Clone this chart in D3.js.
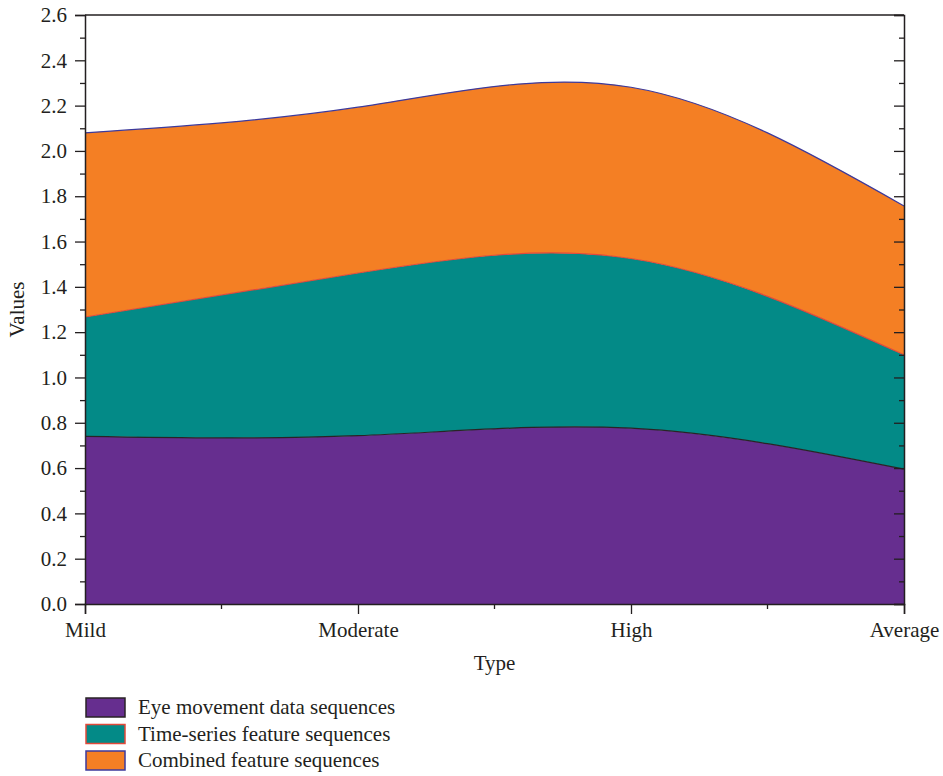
<!DOCTYPE html>
<html>
<head>
<meta charset="utf-8">
<script src="https://cdn.jsdelivr.net/npm/d3@7"></script>
<style>
  html, body { margin: 0; padding: 0; background: #fff; }
  svg { display: block; }
  text { font-family: "Liberation Serif", "DejaVu Serif", serif; fill: #231f20; }
</style>
</head>
<body>
<svg id="chart" width="943" height="776"></svg>
<script>
// ---- data ----
const categories = ["Mild", "Moderate", "High", "Average"];
const seriesNames = ["Eye movement data sequences", "Time-series feature sequences", "Combined feature sequences"];
const eyeMovement = [0.740, 0.743, 0.776, 0.595];
const timeSeries  = [0.527, 0.718, 0.749, 0.505];
const combined    = [0.813, 0.732, 0.756, 0.657];
const yMajorTicks = [0, 0.2, 0.4, 0.6, 0.8, 1.0, 1.2, 1.4, 1.6, 1.8, 2.0, 2.2, 2.4, 2.6];
const yMinorTicks = [0.1, 0.3, 0.5, 0.7, 0.9, 1.1, 1.3, 1.5, 1.7, 1.9, 2.1, 2.3, 2.5];

const fillColors = ["#662e8f", "#038a87", "#f47f24"];
const lineColors = ["#2a2326", "#e2493a", "#3c3a9c"];

const rows = categories.map((c, i) => ({
  cat: c,
  [seriesNames[0]]: eyeMovement[i],
  [seriesNames[1]]: timeSeries[i],
  [seriesNames[2]]: combined[i]
}));

const svg = d3.select("#chart");
const pLeft = 85, pRight = 904, pTop = 15, pBottom = 604;
const fs = "21px";

const x = d3.scalePoint().domain(categories).range([pLeft, pRight]);
const y = d3.scaleLinear().domain([0, 2.6]).range([pBottom, pTop]);

const stacked = d3.stack().keys(seriesNames)(rows);

const area = d3.area()
  .x(d => x(d.data.cat))
  .y0(d => y(d[0]))
  .y1(d => y(d[1]))
  .curve(d3.curveNatural);

const topLine = d3.line()
  .x(d => x(d.data.cat))
  .y(d => y(d[1]))
  .curve(d3.curveNatural);

const g = svg.append("g");
g.selectAll("path.area").data(stacked).join("path")
  .attr("class", "area")
  .attr("d", area)
  .attr("fill", (d, i) => fillColors[i]);

g.selectAll("path.edge").data(stacked).join("path")
  .attr("class", "edge")
  .attr("d", topLine)
  .attr("fill", "none")
  .attr("stroke", (d, i) => lineColors[i])
  .attr("stroke-width", 1.2);

// ---- frame ----
const axisColor = "#231f20";
svg.append("line").attr("x1", pLeft).attr("x2", pRight).attr("y1", pTop).attr("y2", pTop)
  .attr("stroke", axisColor).attr("stroke-width", 1.3);

// ---- left axis ----
const yAxis = svg.append("g").attr("transform", `translate(${pLeft},0)`)
  .call(d3.axisLeft(y).tickValues(yMajorTicks).tickFormat(d3.format(".1f")).tickSize(10).tickPadding(8));
yAxis.select(".domain").attr("stroke", axisColor).attr("stroke-width", 1.5);
yAxis.selectAll(".tick line").attr("stroke", axisColor).attr("stroke-width", 1.3);
yAxis.selectAll(".tick text").style("font-size", fs).attr("fill", axisColor).attr("font-family", "Liberation Serif");
const yMinor = svg.append("g").attr("transform", `translate(${pLeft},0)`)
  .call(d3.axisLeft(y).tickValues(yMinorTicks).tickFormat("").tickSize(5));
yMinor.select(".domain").remove();
yMinor.selectAll(".tick line").attr("stroke", axisColor).attr("stroke-width", 1.3);

// ---- right axis (mirror, inward ticks) ----
const yRight = svg.append("g").attr("transform", `translate(${pRight},0)`)
  .call(d3.axisLeft(y).tickValues(yMajorTicks).tickFormat("").tickSize(10));
yRight.select(".domain").attr("stroke", axisColor).attr("stroke-width", 1.5);
yRight.selectAll(".tick line").attr("stroke", axisColor).attr("stroke-width", 1.3);
const yRightMinor = svg.append("g").attr("transform", `translate(${pRight},0)`)
  .call(d3.axisLeft(y).tickValues(yMinorTicks).tickFormat("").tickSize(5));
yRightMinor.select(".domain").remove();
yRightMinor.selectAll(".tick line").attr("stroke", axisColor).attr("stroke-width", 1.3);

// ---- bottom axis ----
const xAxis = svg.append("g").attr("transform", `translate(0,${pBottom})`)
  .call(d3.axisBottom(x).tickSize(10).tickPadding(8));
xAxis.select(".domain").attr("stroke", axisColor).attr("stroke-width", 1.5);
xAxis.selectAll(".tick line").attr("stroke", axisColor).attr("stroke-width", 1.3);
xAxis.selectAll(".tick text").style("font-size", fs).attr("fill", axisColor).attr("font-family", "Liberation Serif");
const mids = d3.pairs(categories).map(([a, b]) => (x(a) + x(b)) / 2);
svg.append("g").selectAll("line").data(mids).join("line")
  .attr("x1", d => d).attr("x2", d => d)
  .attr("y1", pBottom).attr("y2", pBottom + 5)
  .attr("stroke", axisColor).attr("stroke-width", 1.3);

// ---- axis titles ----
svg.append("text")
  .attr("x", (pLeft + pRight) / 2).attr("y", 670)
  .attr("text-anchor", "middle").style("font-size", fs)
  .text("Type");
svg.append("text")
  .attr("transform", `translate(24,${(pTop + pBottom) / 2}) rotate(-90)`)
  .attr("text-anchor", "middle").style("font-size", fs)
  .text("Values");

// ---- legend ----
const legend = svg.append("g");
const items = legend.selectAll("g").data(seriesNames).join("g")
  .attr("transform", (d, i) => `translate(86,${698 + i * 26.5})`);
items.append("rect")
  .attr("width", 39).attr("height", 19)
  .attr("fill", (d, i) => fillColors[i])
  .attr("stroke", (d, i) => lineColors[i])
  .attr("stroke-width", 1.5);
items.append("text")
  .attr("x", 52).attr("y", 16)
  .style("font-size", fs)
  .text(d => d);
</script>
</body>
</html>
